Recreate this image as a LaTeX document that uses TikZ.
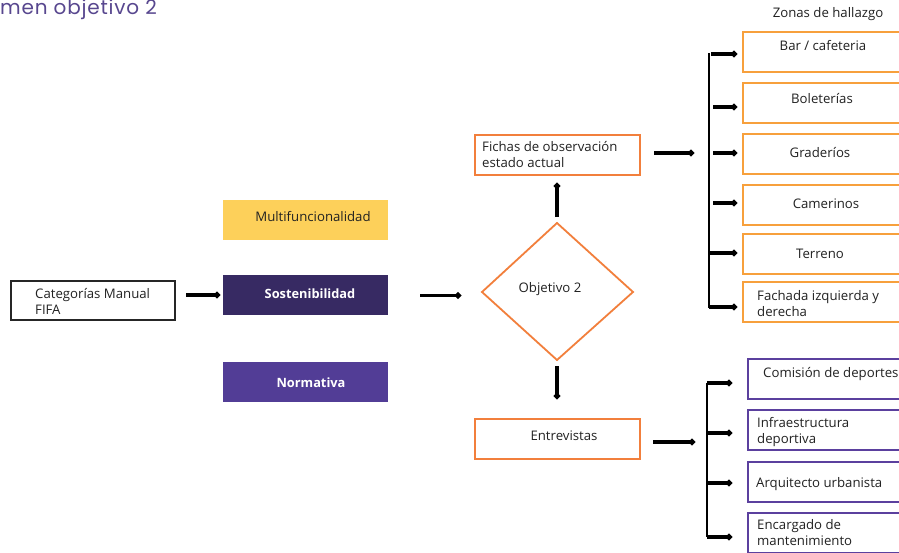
\documentclass[tikz,border=0pt]{standalone}
\usepackage{fontspec}
\setmainfont{Open Sans}
\newfontfamily\titlefont[LetterSpace=4]{Poppins}
\usetikzlibrary{arrows.meta,shapes.geometric}
\definecolor{orA}{HTML}{F27F3C}
\definecolor{orB}{HTML}{F7A03C}
\definecolor{purD}{HTML}{372A63}
\definecolor{purM}{HTML}{523D96}
\definecolor{purB}{HTML}{5B409E}
\definecolor{yel}{HTML}{FDD05A}
\definecolor{ttl}{HTML}{58478F}
\definecolor{txt}{HTML}{222222}
\tikzset{
  every node/.style={font=\fontsize{13.2}{15}\selectfont, text=txt},
  conn/.style={line width=3.3pt, -{Circle[length=6pt,width=6pt]}, shorten >=-1pt},
  brk/.style={line width=2.2pt},
  obox/.style={draw=orA, line width=1.8pt, minimum width=165pt, minimum height=40pt, inner sep=0pt},
  zbox/.style={draw=orB, line width=2pt, minimum width=190pt, minimum height=40pt, inner sep=0pt, anchor=west},
  pbox/.style={draw=purB, line width=2pt, minimum width=190pt, minimum height=40pt, inner sep=0pt, anchor=west},
  fbox/.style={minimum width=165pt, minimum height=40pt, inner sep=0pt},
  lbl/.style={anchor=base west, align=left, inner sep=0pt, font=\fontsize{13.2}{16}\selectfont},
  bold/.style={text=white, font=\bfseries\fontsize{12.8}{14}\selectfont},
}
\begin{document}
\begin{tikzpicture}[x=1pt,y=-1pt]
\useasboundingbox (0,0) rectangle (899,552);
\fill[white] (0,0) rectangle (899,552);
\node[anchor=base west, inner sep=0pt, text=ttl, font=\titlefont\fontsize{20}{22}\selectfont] (title) at (0,14) {men objetivo 2};
\node (zonas) at (828,14) {Zonas de hallazgo};

% left
\node[draw=black!85, line width=2.2pt, minimum width=164pt, minimum height=39pt, inner sep=0pt] (cat) at (93,300.5) {};
\node[lbl] (catt) at (35,314.5) {Categorías Manual\\FIFA};
\node[fbox, fill=yel] (mul) at (305.5,220) {};
\node (mult) at (313,217) {Multifuncionalidad};
\node[fbox, fill=purD] (sos) at (305.5,295) {};
\node[bold] (sost) at (310,294) {Sostenibilidad};
\node[fbox, fill=purM] (nor) at (305.5,381.5) {};
\node[bold] (nort) at (311,383) {Normativa};

\coordinate (a1s) at (186,295);
\coordinate (a1e) at (219,295);
\draw[conn] (a1s) -- (a1e);
\coordinate (a2s) at (420,295.5);
\coordinate (a2e) at (460,295.5);
\draw[conn] (a2s) -- (a2e);

% diamond
\draw[orA, line width=1.8pt] (557,223) -- (633,292) -- (557,360) -- (482,292) -- cycle;
\node (obj) at (550,289) {Objetivo 2};

\node[obox] (fich) at (557.5,155) {};
\node[lbl] (ficht) at (482,167) {Fichas de observación\\estado actual};
\node[obox] (entr) at (557.5,439) {};
\node (entrt) at (564,436) {Entrevistas};

\coordinate (u1) at (557,217);
\coordinate (u2) at (557,184);
\draw[conn] (u1) -- (u2);
\coordinate (d1) at (557,366);
\coordinate (d2) at (557,398);
\draw[conn] (d1) -- (d2);

\coordinate (f1) at (654,153);
\coordinate (f2) at (693,153);
\draw[conn] (f1) -- (f2);
\coordinate (e1) at (653,442);
\coordinate (e2) at (694,442);
\draw[conn] (e1) -- (e2);

% upper bracket
\coordinate (vt) at (709,53);
\coordinate (vb) at (709,307.5);
\draw[brk] (vt) -- (vb);
\foreach \y/\xs in {54/711, 107/713, 153/713, 203/713, 253/709, 307/709}{
  \draw[conn] (\xs,\y) -- (736,\y);
}
\node[zbox] (z1) at (742,51.5) {};
\node (z1t) at (823,46) {Bar / cafeteria};
\node[zbox] (z2) at (742,102.5) {};
\node (z2t) at (822,99) {Boleterías};
\node[zbox] (z3) at (742,154) {};
\node (z3t) at (820,153) {Graderíos};
\node[zbox] (z4) at (742,205) {};
\node (z4t) at (826,204) {Camerinos};
\node[zbox] (z5) at (742,254) {};
\node (z5t) at (820,254) {Terreno};
\node[zbox] (z6) at (742,302) {};
\node[lbl] (z6t) at (757,316) {Fachada izquierda y\\derecha};

% lower bracket
\coordinate (wt) at (707,383);
\coordinate (wb) at (707,537);
\draw[line width=1.5pt] (wt) -- (wb);
\foreach \y in {383,433,483,537}{
  \draw[conn] (707,\y) -- (731,\y);
}
\node[pbox] (p1) at (747,379) {};
\node[anchor=base west, inner sep=0pt] (p1t) at (763,377) {Comisión de deportes};
\node[pbox] (p2) at (747,430) {};
\node[lbl] (p2t) at (757,443) {Infraestructura\\deportiva};
\node[pbox] (p3) at (747,481.5) {};
\node[anchor=base west, inner sep=0pt] (p3t) at (756,487) {Arquitecto urbanista};
\node[pbox] (p4) at (747,533) {};
\node[lbl] (p4t) at (757,545) {Encargado de\\mantenimiento};
\end{tikzpicture}
\end{document}
